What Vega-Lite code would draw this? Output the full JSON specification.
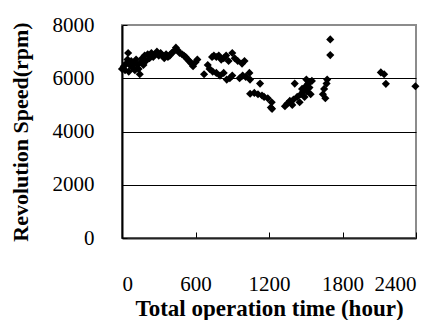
{
  "$schema": "https://vega.github.io/schema/vega-lite/v6.json",
  "autosize": "none",
  "width": 294,
  "height": 213,
  "padding": {"left": 122, "top": 25, "right": 28, "bottom": 82},
  "background": "white",
  "config": {
    "view": {"stroke": "#8c8c8c", "strokeWidth": 2},
    "font": "Liberation Serif"
  },
  "data": {
    "values": [
      {"t": 0, "rpm": 6350}, {"t": 15, "rpm": 6450}, {"t": 25, "rpm": 6300}, {"t": 35, "rpm": 6550},
      {"t": 45, "rpm": 6700}, {"t": 50, "rpm": 6950}, {"t": 55, "rpm": 6250}, {"t": 65, "rpm": 6500},
      {"t": 75, "rpm": 6650}, {"t": 85, "rpm": 6400}, {"t": 95, "rpm": 6550}, {"t": 105, "rpm": 6300},
      {"t": 115, "rpm": 6700}, {"t": 125, "rpm": 6500}, {"t": 135, "rpm": 6350}, {"t": 145, "rpm": 6150},
      {"t": 155, "rpm": 6600}, {"t": 165, "rpm": 6750}, {"t": 175, "rpm": 6500}, {"t": 185, "rpm": 6850},
      {"t": 195, "rpm": 6650}, {"t": 210, "rpm": 6900}, {"t": 225, "rpm": 6750}, {"t": 240, "rpm": 6950},
      {"t": 255, "rpm": 6800}, {"t": 270, "rpm": 6900}, {"t": 285, "rpm": 7000}, {"t": 300, "rpm": 6850},
      {"t": 315, "rpm": 6950}, {"t": 330, "rpm": 6850}, {"t": 345, "rpm": 6750}, {"t": 360, "rpm": 6900},
      {"t": 375, "rpm": 6800}, {"t": 390, "rpm": 6850}, {"t": 405, "rpm": 6950}, {"t": 420, "rpm": 7000},
      {"t": 440, "rpm": 7150}, {"t": 455, "rpm": 7050}, {"t": 470, "rpm": 6950}, {"t": 490, "rpm": 6900},
      {"t": 505, "rpm": 6850}, {"t": 520, "rpm": 6800}, {"t": 535, "rpm": 6700}, {"t": 550, "rpm": 6650},
      {"t": 565, "rpm": 6550}, {"t": 580, "rpm": 6450}, {"t": 600, "rpm": 6600}, {"t": 615, "rpm": 6700},
      {"t": 670, "rpm": 6150}, {"t": 700, "rpm": 6500}, {"t": 715, "rpm": 6350}, {"t": 735, "rpm": 6800},
      {"t": 750, "rpm": 6850}, {"t": 770, "rpm": 6800}, {"t": 790, "rpm": 6850}, {"t": 810, "rpm": 6700},
      {"t": 830, "rpm": 6750}, {"t": 850, "rpm": 6850}, {"t": 870, "rpm": 6650}, {"t": 900, "rpm": 6950},
      {"t": 920, "rpm": 6750}, {"t": 945, "rpm": 6650}, {"t": 980, "rpm": 6550}, {"t": 1000, "rpm": 6650},
      {"t": 740, "rpm": 6250}, {"t": 770, "rpm": 6200}, {"t": 800, "rpm": 6100}, {"t": 830, "rpm": 6200},
      {"t": 855, "rpm": 5950}, {"t": 880, "rpm": 6000}, {"t": 900, "rpm": 6100}, {"t": 960, "rpm": 6000},
      {"t": 985, "rpm": 6100}, {"t": 1010, "rpm": 6050}, {"t": 1040, "rpm": 6200}, {"t": 1045, "rpm": 5950},
      {"t": 1046, "rpm": 5420}, {"t": 1080, "rpm": 5450}, {"t": 1110, "rpm": 5400}, {"t": 1127, "rpm": 5800},
      {"t": 1143, "rpm": 5350}, {"t": 1160, "rpm": 5300}, {"t": 1190, "rpm": 5250}, {"t": 1222, "rpm": 5100},
      {"t": 1215, "rpm": 4900}, {"t": 1225, "rpm": 4850},
      {"t": 1330, "rpm": 4950}, {"t": 1350, "rpm": 5050}, {"t": 1370, "rpm": 5150}, {"t": 1390, "rpm": 5000},
      {"t": 1410, "rpm": 5800}, {"t": 1400, "rpm": 5200}, {"t": 1430, "rpm": 5300}, {"t": 1450, "rpm": 5100},
      {"t": 1460, "rpm": 5400}, {"t": 1470, "rpm": 5600}, {"t": 1480, "rpm": 5500}, {"t": 1490, "rpm": 5300},
      {"t": 1500, "rpm": 5700}, {"t": 1505, "rpm": 5950}, {"t": 1510, "rpm": 5500}, {"t": 1520, "rpm": 5800},
      {"t": 1530, "rpm": 5650}, {"t": 1540, "rpm": 5400}, {"t": 1550, "rpm": 5900},
      {"t": 1640, "rpm": 5400}, {"t": 1650, "rpm": 5600}, {"t": 1660, "rpm": 5250}, {"t": 1670, "rpm": 5800},
      {"t": 1675, "rpm": 5950}, {"t": 1700, "rpm": 7460}, {"t": 1700, "rpm": 6870},
      {"t": 2113, "rpm": 6220}, {"t": 2140, "rpm": 6150}, {"t": 2154, "rpm": 5790}, {"t": 2395, "rpm": 5700}
    ]
  },
  "mark": {"type": "point", "shape": "diamond", "filled": true, "color": "black", "opacity": 1, "size": 66},
  "encoding": {
    "x": {
      "field": "t", "type": "quantitative",
      "scale": {"domain": [0, 2400], "nice": false, "zero": false},
      "axis": {
        "values": [0, 600, 1200, 1800, 2400],
        "format": "d",
        "title": "Total operation time (hour)",
        "grid": false,
        "domainColor": "#222", "domainWidth": 2,
        "tickColor": "black", "tickSize": -6, "tickWidth": 1,
        "labelFont": "Liberation Serif", "labelFontSize": 21, "labelColor": "black",
        "labelPadding": 41,
        "titleFont": "Liberation Serif", "titleFontSize": 23, "titleFontWeight": "bold", "titleColor": "black",
        "titlePadding": 3
      }
    },
    "y": {
      "field": "rpm", "type": "quantitative",
      "scale": {"domain": [0, 8000], "nice": false},
      "axis": {
        "values": [0, 2000, 4000, 6000, 8000],
        "format": "d",
        "title": "Revolution Speed(rpm)",
        "grid": true,
        "gridColor": {"condition": {"test": "datum.value == 8000", "value": "#8c8c8c"}, "value": "black"},
        "gridWidth": 1,
        "domainColor": "black", "domainWidth": 2,
        "tickColor": "black", "tickSize": -5,
        "labelFont": "Liberation Serif", "labelFontSize": 21, "labelColor": "black",
        "labelPadding": 33,
        "titleFont": "Liberation Serif", "titleFontSize": 22, "titleFontWeight": "bold", "titleColor": "black",
        "titlePadding": 20
      }
    }
  }
}
